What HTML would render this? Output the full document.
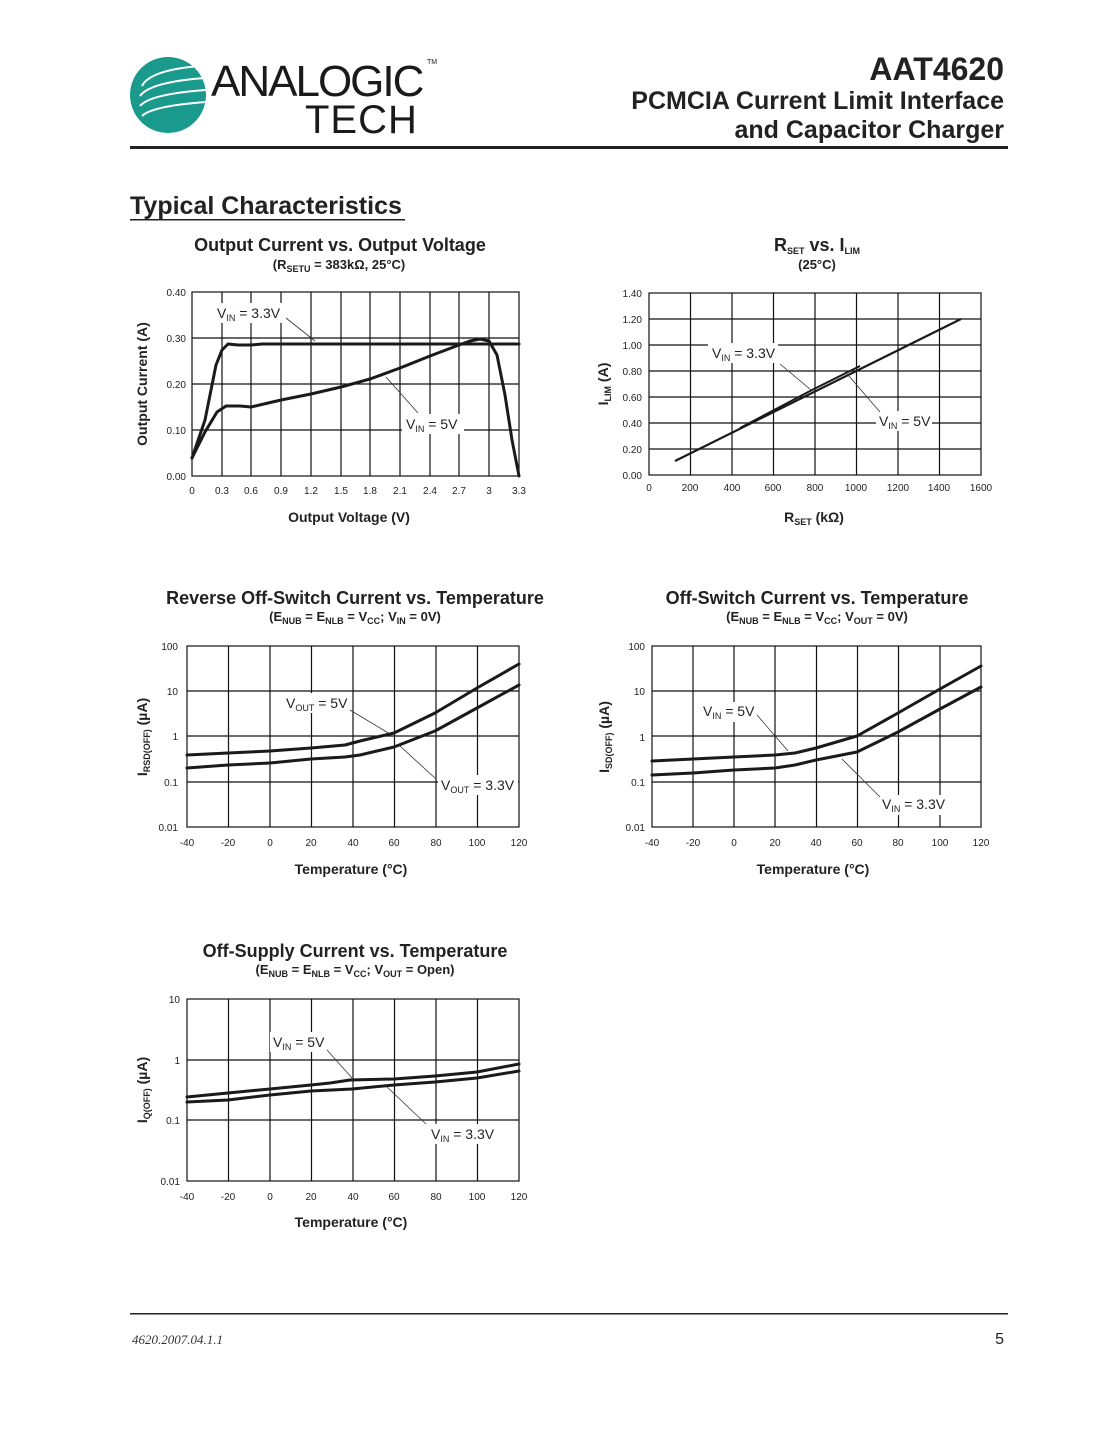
<!DOCTYPE html>
<html><head><meta charset="utf-8"><style>
body{margin:0;background:#fff;width:1105px;height:1430px;overflow:hidden}
svg{display:block;font-family:"Liberation Sans",Arial,sans-serif}
.g{stroke:#111;stroke-width:1.2;fill:none}
.c{stroke:#1a1a1a;stroke-width:3;fill:none;stroke-linejoin:round;stroke-linecap:round}
.t{font-size:10px;fill:#222}
.h{font-size:18px;font-weight:bold;fill:#222}
.s{font-size:13px;font-weight:bold;fill:#222}
.ax{font-size:14px;font-weight:bold;fill:#222}
.lb{font-size:14px;fill:#222}
.sb{font-size:9px}
.ld{stroke:#333;stroke-width:0.8;fill:none}
</style></head><body>
<svg width="1105" height="1430" viewBox="0 0 1105 1430">
<!-- logo -->
<circle cx="168" cy="95" r="38" fill="#1a9a8c"/>
<g stroke="#fff" stroke-width="2" fill="none">
<path d="M142 86 Q150 70 200 66"/><path d="M140 96 Q150 82 205 78"/><path d="M140 106 Q150 94 206 90"/><path d="M142 116 Q152 106 206 102"/>
</g>
<text x="211" y="96" font-size="44" fill="#1a1a1a" letter-spacing="-2">ANALOGIC</text>
<text x="427" y="64" font-size="7" fill="#1a1a1a">TM</text>
<text x="305" y="133" font-size="40" fill="#1a1a1a" font-weight="lighter" letter-spacing="1">TECH</text>
<text x="1004" y="80" text-anchor="end" font-size="32" font-weight="bold" fill="#222">AAT4620</text>
<text x="1004" y="109" text-anchor="end" font-size="25" font-weight="bold" fill="#222">PCMCIA Current Limit Interface</text>
<text x="1004" y="138" text-anchor="end" font-size="25" font-weight="bold" fill="#222">and Capacitor Charger</text>
<rect x="130" y="146" width="878" height="3" fill="#222"/>
<text x="130" y="214" font-size="25" font-weight="bold" fill="#222">Typical Characteristics</text>
<rect x="130" y="219" width="275" height="1.5" fill="#222"/>

<!-- Chart 1 -->
<text x="340" y="251" text-anchor="middle" class="h">Output Current vs. Output Voltage</text>
<text x="339" y="269" text-anchor="middle" class="s">(R<tspan class="sb" dy="3">SETU</tspan><tspan dy="-3"> = 383k</tspan>Ω, 25°C)</text>
<rect x="192" y="292" width="327" height="184" class="g"/>
<g class="g"><path d="M222 292V476M251 292V476M281 292V476M311 292V476M341 292V476M370 292V476M400 292V476M430 292V476M459 292V476M489 292V476M192 338H519M192 384H519M192 430H519"/></g>
<g class="t" text-anchor="end"><text x="186" y="296">0.40</text><text x="186" y="342">0.30</text><text x="186" y="388">0.20</text><text x="186" y="434">0.10</text><text x="186" y="480">0.00</text></g>
<g class="t" text-anchor="middle"><text x="192" y="494">0</text><text x="222" y="494">0.3</text><text x="251" y="494">0.6</text><text x="281" y="494">0.9</text><text x="311" y="494">1.2</text><text x="341" y="494">1.5</text><text x="370" y="494">1.8</text><text x="400" y="494">2.1</text><text x="430" y="494">2.4</text><text x="459" y="494">2.7</text><text x="489" y="494">3</text><text x="519" y="494">3.3</text></g>
<polyline class="c" points="192,458 205,420 216,365 222,350 228,344 238,345 251,345 262,344 519,344"/>
<polyline class="c" points="192,458 205,432 217,412 226,406 240,406 251,407 281,400 311,394 341,387 370,379 400,368 430,356 459,345 470,341 480,339 489,341 497,355 505,395 512,440 519,476"/>
<rect x="214" y="303" width="72" height="20" fill="#fff"/>
<text x="217" y="318" class="lb">V<tspan class="sb" dy="3">IN</tspan><tspan dy="-3"> = 3.3V</tspan></text>
<path class="ld" d="M286 318L315 341"/>
<rect x="402" y="414" width="62" height="20" fill="#fff"/>
<text x="406" y="429" class="lb">V<tspan class="sb" dy="3">IN</tspan><tspan dy="-3"> = 5V</tspan></text>
<path class="ld" d="M418 413L386 377"/>
<text x="147" y="384" transform="rotate(-90 147 384)" text-anchor="middle" class="ax">Output Current (A)</text>
<text x="349" y="522" text-anchor="middle" class="ax">Output Voltage (V)</text>

<!-- Chart 2 -->
<text x="817" y="251" text-anchor="middle" class="h">R<tspan class="sb" font-size="11" dy="3">SET</tspan><tspan dy="-3"> vs. I</tspan><tspan class="sb" font-size="11" dy="3">LIM</tspan></text>
<text x="817" y="269" text-anchor="middle" class="s">(25°C)</text>
<rect x="649" y="293" width="332" height="182" class="g"/>
<g class="g"><path d="M690.5 293V475M732 293V475M773.5 293V475M815 293V475M856.5 293V475M898 293V475M939.5 293V475M649 319H981M649 345H981M649 371H981M649 397H981M649 423H981M649 449H981"/></g>
<g class="t" text-anchor="end"><text x="642" y="297">1.40</text><text x="642" y="323">1.20</text><text x="642" y="349">1.00</text><text x="642" y="375">0.80</text><text x="642" y="401">0.60</text><text x="642" y="427">0.40</text><text x="642" y="453">0.20</text><text x="642" y="479">0.00</text></g>
<g class="t" text-anchor="middle"><text x="649" y="491">0</text><text x="690" y="491">200</text><text x="732" y="491">400</text><text x="773" y="491">600</text><text x="815" y="491">800</text><text x="856" y="491">1000</text><text x="898" y="491">1200</text><text x="939" y="491">1400</text><text x="981" y="491">1600</text></g>
<path d="M675 461L961 319" stroke="#1a1a1a" stroke-width="2.2" fill="none"/>
<path d="M740 428L812 390L860 366" stroke="#1a1a1a" stroke-width="2" fill="none"/>
<rect x="708" y="343" width="70" height="20" fill="#fff"/>
<text x="712" y="358" class="lb">V<tspan class="sb" dy="3">IN</tspan><tspan dy="-3"> = 3.3V</tspan></text>
<path class="ld" d="M780 364L811 390"/>
<rect x="876" y="411" width="56" height="20" fill="#fff"/>
<text x="879" y="426" class="lb">V<tspan class="sb" dy="3">IN</tspan><tspan dy="-3"> = 5V</tspan></text>
<path class="ld" d="M880 412L848 375"/>
<text x="608" y="384" transform="rotate(-90 608 384)" text-anchor="middle" class="ax">I<tspan class="sb" dy="3">LIM</tspan><tspan dy="-3"> (A)</tspan></text>
<text x="814" y="522" text-anchor="middle" class="ax">R<tspan class="sb" dy="3">SET</tspan><tspan dy="-3"> (kΩ)</tspan></text>

<!-- Chart 3 -->
<text x="355" y="604" text-anchor="middle" class="h">Reverse Off-Switch Current vs. Temperature</text>
<text x="355" y="621" text-anchor="middle" class="s">(E<tspan class="sb" dy="3">NUB</tspan><tspan dy="-3"> = E</tspan><tspan class="sb" dy="3">NLB</tspan><tspan dy="-3"> = V</tspan><tspan class="sb" dy="3">CC</tspan><tspan dy="-3">; V</tspan><tspan class="sb" dy="3">IN</tspan><tspan dy="-3"> = 0V)</tspan></text>
<rect x="187" y="646" width="332" height="181" class="g"/>
<g class="g"><path d="M228.5 646V827M270 646V827M311.5 646V827M353 646V827M394.5 646V827M436 646V827M477.5 646V827M187 691H519M187 736H519M187 782H519"/></g>
<g class="t" text-anchor="end"><text x="178" y="650">100</text><text x="178" y="695">10</text><text x="178" y="740">1</text><text x="178" y="786">0.1</text><text x="178" y="831">0.01</text></g>
<g class="t" text-anchor="middle"><text x="187" y="846">-40</text><text x="228" y="846">-20</text><text x="270" y="846">0</text><text x="311" y="846">20</text><text x="353" y="846">40</text><text x="394" y="846">60</text><text x="436" y="846">80</text><text x="477" y="846">100</text><text x="519" y="846">120</text></g>
<polyline class="c" points="187,755 228,753 270,751 311,748 345,745 360,741 394,733 435,713 477,688 519,664"/>
<polyline class="c" points="187,768 228,765 270,763 311,759 345,757 360,755 394,747 435,731 477,708 519,685"/>
<rect x="283" y="693" width="68" height="20" fill="#fff"/>
<text x="286" y="708" class="lb">V<tspan class="sb" dy="3">OUT</tspan><tspan dy="-3"> = 5V</tspan></text>
<path class="ld" d="M350 710L390 734"/>
<rect x="438" y="775" width="80" height="20" fill="#fff"/>
<text x="441" y="790" class="lb">V<tspan class="sb" dy="3">OUT</tspan><tspan dy="-3"> = 3.3V</tspan></text>
<path class="ld" d="M436 779L400 746"/>
<text x="147" y="737" transform="rotate(-90 147 737)" text-anchor="middle" class="ax">I<tspan class="sb" dy="3">RSD(OFF)</tspan><tspan dy="-3"> (µA)</tspan></text>
<text x="351" y="874" text-anchor="middle" class="ax">Temperature (°C)</text>

<!-- Chart 4 -->
<text x="817" y="604" text-anchor="middle" class="h">Off-Switch Current vs. Temperature</text>
<text x="817" y="621" text-anchor="middle" class="s">(E<tspan class="sb" dy="3">NUB</tspan><tspan dy="-3"> = E</tspan><tspan class="sb" dy="3">NLB</tspan><tspan dy="-3"> = V</tspan><tspan class="sb" dy="3">CC</tspan><tspan dy="-3">; V</tspan><tspan class="sb" dy="3">OUT</tspan><tspan dy="-3"> = 0V)</tspan></text>
<rect x="652" y="646" width="329" height="181" class="g"/>
<g class="g"><path d="M693 646V827M734 646V827M775 646V827M816.5 646V827M857.5 646V827M898.5 646V827M940 646V827M652 691H981M652 736H981M652 782H981"/></g>
<g class="t" text-anchor="end"><text x="645" y="650">100</text><text x="645" y="695">10</text><text x="645" y="741">1</text><text x="645" y="786">0.1</text><text x="645" y="831">0.01</text></g>
<g class="t" text-anchor="middle"><text x="652" y="846">-40</text><text x="693" y="846">-20</text><text x="734" y="846">0</text><text x="775" y="846">20</text><text x="816" y="846">40</text><text x="857" y="846">60</text><text x="898" y="846">80</text><text x="940" y="846">100</text><text x="981" y="846">120</text></g>
<polyline class="c" points="652,761 693,759 734,757 775,755 795,753 816,748 857,736 898,713 940,689 981,666"/>
<polyline class="c" points="652,775 693,773 734,770 775,768 795,765 816,760 857,752 898,732 940,709 981,687"/>
<rect x="700" y="702" width="58" height="20" fill="#fff"/>
<text x="703" y="716" class="lb">V<tspan class="sb" dy="3">IN</tspan><tspan dy="-3"> = 5V</tspan></text>
<path class="ld" d="M757 715L788 751"/>
<rect x="879" y="795" width="70" height="20" fill="#fff"/>
<text x="882" y="809" class="lb">V<tspan class="sb" dy="3">IN</tspan><tspan dy="-3"> = 3.3V</tspan></text>
<path class="ld" d="M880 797L842 759"/>
<text x="609" y="737" transform="rotate(-90 609 737)" text-anchor="middle" class="ax">I<tspan class="sb" dy="3">SD(OFF)</tspan><tspan dy="-3"> (µA)</tspan></text>
<text x="813" y="874" text-anchor="middle" class="ax">Temperature (°C)</text>

<!-- Chart 5 -->
<text x="355" y="957" text-anchor="middle" class="h">Off-Supply Current vs. Temperature</text>
<text x="355" y="974" text-anchor="middle" class="s">(E<tspan class="sb" dy="3">NUB</tspan><tspan dy="-3"> = E</tspan><tspan class="sb" dy="3">NLB</tspan><tspan dy="-3"> = V</tspan><tspan class="sb" dy="3">CC</tspan><tspan dy="-3">; V</tspan><tspan class="sb" dy="3">OUT</tspan><tspan dy="-3"> = Open)</tspan></text>
<rect x="187" y="999" width="332" height="182" class="g"/>
<g class="g"><path d="M228.5 999V1181M270 999V1181M311.5 999V1181M353 999V1181M394.5 999V1181M436 999V1181M477.5 999V1181M187 1060H519M187 1120H519"/></g>
<g class="t" text-anchor="end"><text x="180" y="1003">10</text><text x="180" y="1064">1</text><text x="180" y="1124">0.1</text><text x="180" y="1185">0.01</text></g>
<g class="t" text-anchor="middle"><text x="187" y="1200">-40</text><text x="228" y="1200">-20</text><text x="270" y="1200">0</text><text x="311" y="1200">20</text><text x="353" y="1200">40</text><text x="394" y="1200">60</text><text x="436" y="1200">80</text><text x="477" y="1200">100</text><text x="519" y="1200">120</text></g>
<polyline class="c" points="187,1097 228,1093 270,1089 311,1085 330,1083 350,1080 394,1079 435,1076 477,1072 519,1064"/>
<polyline class="c" points="187,1102 228,1100 270,1095 311,1091 352,1089 394,1085 435,1082 477,1078 519,1071"/>
<rect x="270" y="1032" width="58" height="20" fill="#fff"/>
<text x="273" y="1047" class="lb">V<tspan class="sb" dy="3">IN</tspan><tspan dy="-3"> = 5V</tspan></text>
<path class="ld" d="M327 1050L352 1078"/>
<rect x="428" y="1124" width="70" height="20" fill="#fff"/>
<text x="431" y="1139" class="lb">V<tspan class="sb" dy="3">IN</tspan><tspan dy="-3"> = 3.3V</tspan></text>
<path class="ld" d="M426 1124L386 1086"/>
<text x="147" y="1090" transform="rotate(-90 147 1090)" text-anchor="middle" class="ax">I<tspan class="sb" dy="3">Q(OFF)</tspan><tspan dy="-3"> (µA)</tspan></text>
<text x="351" y="1227" text-anchor="middle" class="ax">Temperature (°C)</text>

<!-- footer -->
<rect x="130" y="1313" width="878" height="1.5" fill="#222"/>
<text x="132" y="1344" font-size="13" font-style="italic" fill="#333" font-family="Liberation Serif,serif">4620.2007.04.1.1</text>
<text x="1004" y="1344" text-anchor="end" font-size="16" fill="#222">5</text>
</svg>
</body></html>
